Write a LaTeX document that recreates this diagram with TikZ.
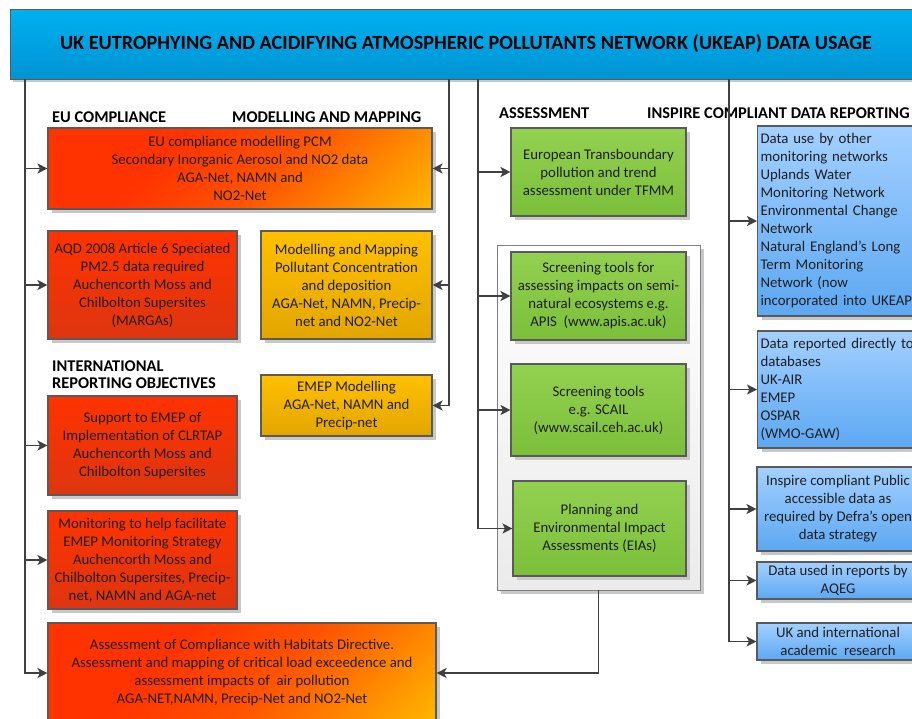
\documentclass[tikz,border=0pt]{standalone}
\usepackage{fontspec}
\setmainfont{Carlito}
\usetikzlibrary{arrows.meta,shadows}
\definecolor{lineG}{HTML}{404040}
\definecolor{bordG}{HTML}{5A5A5A}
\definecolor{redA}{HTML}{FF3300}
\definecolor{redM}{HTML}{FF5200}
\definecolor{redB}{HTML}{DE3510}
\definecolor{orgA}{HTML}{FF8A00}
\definecolor{yelA}{HTML}{FFC000}
\definecolor{goldA}{HTML}{FFC000}
\definecolor{goldB}{HTML}{E2A600}
\definecolor{grnA}{HTML}{93D150}
\definecolor{grnB}{HTML}{7BBF3A}
\definecolor{bluA}{HTML}{A3D0FF}
\definecolor{bluB}{HTML}{5CA8F2}
\definecolor{banA}{HTML}{00B0F0}
\definecolor{banB}{HTML}{0094D4}
\definecolor{shad}{HTML}{C8C8C8}
\definecolor{txt}{HTML}{1F1F1F}
\definecolor{contA}{HTML}{FFFFFF}
\definecolor{contB}{HTML}{EBEBEB}
\pgfdeclarehorizontalshading{redyel}{100bp}{color(0bp)=(redA); color(36bp)=(redA); color(55bp)=(redM); color(72bp)=(orgA); color(88bp)=(yelA); color(100bp)=(yelA)}
\tikzset{
  boxbase/.style={draw=bordG, line width=1.1pt, text=txt, align=center, inner sep=0pt,
    font=\fontsize{14.8}{18}\selectfont,
    drop shadow={shadow xshift=4pt, shadow yshift=-4pt, fill=shad, opacity=1}},
  diagbox/.style={boxbase, shade, shading=redyel, shading angle=-45},
  redbox/.style={boxbase, top color=redA, bottom color=redB},
  goldbox/.style={boxbase, top color=goldA, bottom color=goldB},
  grnbox/.style={boxbase, top color=grnA, bottom color=grnB},
  blubox/.style={boxbase, top color=bluA, bottom color=bluB},
  bluleft/.style={blubox, align=left, anchor=west, text width=200pt, inner xsep=3pt},
  contbox/.style={draw=gray, line width=0.9pt, top color=contA, bottom color=contB,
    drop shadow={shadow xshift=4pt, shadow yshift=-4pt, fill=shad, opacity=1}},
  seclab/.style={anchor=west, inner sep=0pt, font=\fontsize{16.4}{18}\selectfont\bfseries, text=black},
  bannerbox/.style={draw=bordG, line width=0.8pt, top color=banA, bottom color=banB,
    font=\fontsize{20.2}{24}\selectfont\bfseries, text=black,
    drop shadow={shadow xshift=3pt, shadow yshift=-3pt, fill=shad, opacity=1}},
  arr/.style={draw=lineG, line width=1.8pt, -{Stealth[length=10pt,width=10pt,inset=2.5pt]}},
  plain/.style={draw=lineG, line width=1.8pt}
}
\begin{document}
\begin{tikzpicture}[x=1pt,y=-1pt]
\useasboundingbox (0,0) rectangle (912,718);
\clip (0,0) rectangle (912,718);
\fill[white] (0,0) rectangle (912,718);

% banner
\node[bannerbox, minimum width=912pt, minimum height=70pt] (banner) at (466,44)
  {UK EUTROPHYING AND ACIDIFYING ATMOSPHERIC POLLUTANTS NETWORK (UKEAP) DATA USAGE};

% section labels
\node[seclab] (lEU) at (52,117) {EU COMPLIANCE};
\node[seclab] (lMM) at (232,117) {MODELLING AND MAPPING};
\node[seclab] (lIR1) at (52,366) {INTERNATIONAL};
\node[seclab] (lIR2) at (52,383) {REPORTING OBJECTIVES};
\node[seclab] (lAS) at (499,113) {ASSESSMENT};
\node[seclab] (lIN) at (647,113) {INSPIRE COMPLIANT DATA REPORTING};

% container
\node[contbox, minimum width=203pt, minimum height=345pt, inner sep=0pt] (cont) at (598.5,417.5) {};

% left column boxes
\node[diagbox, minimum width=384pt, minimum height=81pt] (eu) at (240,168.5)
  {EU compliance modelling PCM\\Secondary Inorganic Aerosol and NO2 data\\AGA-Net, NAMN and\\NO2-Net};
\node[redbox, minimum width=189pt, minimum height=108pt] (aqd) at (142.5,285)
  {AQD 2008 Article 6 Speciated\\PM2.5 data required\\Auchencorth Moss and\\Chilbolton Supersites\\(MARGAs)};
\node[goldbox, minimum width=171pt, minimum height=108pt] (modmap) at (346.5,285)
  {Modelling and Mapping\\Pollutant Concentration\\and deposition\\AGA-Net, NAMN, Precip-\\net and NO2-Net};
\node[goldbox, minimum width=171pt, minimum height=61pt] (emep) at (346.5,405.5)
  {EMEP Modelling\\AGA-Net, NAMN and\\Precip-net};
\node[redbox, minimum width=189pt, minimum height=99pt] (supp) at (142.5,445.5)
  {Support to EMEP of\\Implementation of CLRTAP\\Auchencorth Moss and\\Chilbolton Supersites};
\node[redbox, minimum width=189pt, minimum height=98pt] (monit) at (142.5,560)
  {Monitoring to help facilitate\\EMEP Monitoring Strategy\\Auchencorth Moss and\\Chilbolton Supersites, Precip-\\net, NAMN and AGA-net};
\node[diagbox, minimum width=388pt, minimum height=100pt] (habit) at (242,673)
  {Assessment of Compliance with Habitats Directive.\\Assessment and mapping of critical load exceedence and\\assessment impacts of\ \ air pollution\\AGA-NET,NAMN, Precip-Net and NO2-Net};

% green boxes
\node[grnbox, minimum width=175pt, minimum height=88pt] (etrans) at (598.5,172)
  {European Transboundary\\pollution and trend\\assessment under TFMM};
\node[grnbox, minimum width=175pt, minimum height=88pt] (apis) at (598.5,296)
  {Screening tools for\\assessing impacts on semi-\\natural ecosystems e.g.\\APIS\ \ (www.apis.ac.uk)};
\node[grnbox, minimum width=175pt, minimum height=92pt] (scail) at (598.5,410)
  {Screening tools\\e.g. SCAIL\\(www.scail.ceh.ac.uk)};
\node[grnbox, minimum width=173pt, minimum height=95pt] (plan) at (599.5,528.5)
  {Planning and\\Environmental Impact\\Assessments (EIAs)};

% blue boxes
\node[bluleft, minimum height=190pt] (duse) at (757,221)
  {Data use by other\\monitoring networks\\Uplands Water\\Monitoring Network\\Environmental Change\\Network\\Natural England’s Long\\Term Monitoring\\Network (now\\incorporated into UKEAP)};
\node[bluleft, minimum height=117pt] (drep) at (757,389.5)
  {Data reported directly to\\databases\\UK-AIR\\EMEP\\OSPAR\\(WMO-GAW)};
\node[blubox, minimum width=162pt, minimum height=84pt] (insp) at (838,509)
  {Inspire compliant Public\\accessible data as\\required by Defra’s open\\data strategy};
\node[blubox, minimum width=162pt, minimum height=37pt] (aqeg) at (838,580.5)
  {Data used in reports by\\AQEG};
\node[blubox, minimum width=162pt, minimum height=37pt] (ukres) at (838,641.5)
  {UK and international\\academic\ \ research};

% trunk coordinates
\coordinate (xL) at (25,0);
\coordinate (xM) at (449,0);
\coordinate (xA) at (478,0);
\coordinate (xR) at (729,0);
\coordinate (tL) at (banner.south -| xL);
\coordinate (tM) at (banner.south -| xM);
\coordinate (tA) at (banner.south -| xA);
\coordinate (tR) at (banner.south -| xR);

% left trunk
\draw[arr] (tL) |- (eu.west);
\draw[arr] (tL) |- (aqd.west);
\draw[arr] (tL) |- (supp.west);
\draw[arr] (tL) |- (monit.west);
\draw[arr] (tL) |- (habit.west);
% modelling trunk
\draw[arr] (tM) |- (eu.east);
\draw[arr] (tM) |- (modmap.east);
\draw[arr] (tM) |- (emep.east);
% assessment trunk
\draw[arr] (tA) |- (etrans.west);
\draw[arr] (tA) |- (apis.west);
\draw[arr] (tA) |- (scail.west);
\draw[arr] (tA) |- (plan.west);
% container to habitats
\draw[arr] (cont.south) |- (habit.east);
% reporting trunk
\draw[arr] (tR) |- (duse.west);
\draw[arr] (tR) |- (drep.west);
\draw[arr] (tR) |- (insp.west);
\draw[arr] (tR) |- (aqeg.west);
\draw[arr] (tR) |- (ukres.west);
\end{tikzpicture}
\end{document}
